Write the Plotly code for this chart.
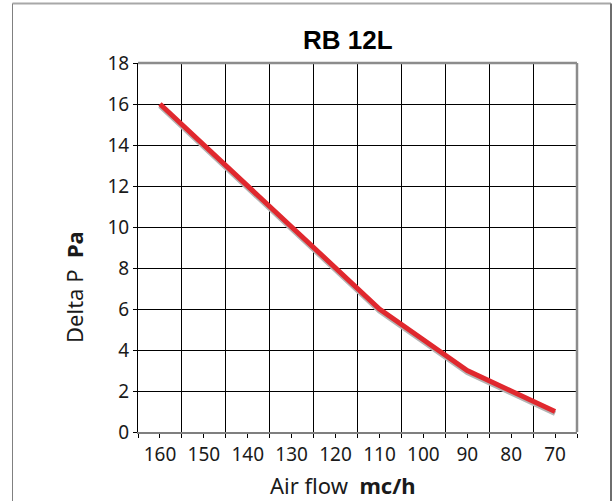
import plotly.graph_objects as go

# ---- data ----
air_flow = [160, 150, 140, 130, 120, 110, 100, 90, 80, 70]
delta_p = [16, 14, 12, 10, 8, 6, 4.5, 3, 2, 1]
x_tick_vals = [160, 150, 140, 130, 120, 110, 100, 90, 80, 70]
x_tick_text = ["160", "150", "140", "130", "120", "110", "100", "90", "80", "70"]
y_tick_vals = [0, 2, 4, 6, 8, 10, 12, 14, 16, 18]

W, H = 613, 501
L, R, T, B = 138, 36, 63, 69
pw, ph = W - L - R, H - T - B

def px_x(p):
    return (p - L) / pw

def px_y(p):
    return (H - B - p) / ph

YMAX = 18
shadow_dy = 2.0 * YMAX / ph  # 2 px downward shift

tick_font = dict(family="Noto Sans", size=19, color="#1a1a1a")

fig = go.Figure()
# invisible anchor trace for the visible axes
fig.add_trace(go.Scatter(x=air_flow, y=delta_p, mode="lines", xaxis="x", yaxis="y",
                         line=dict(color="rgba(0,0,0,0)", width=1), hoverinfo="skip", showlegend=False))
# shadow
fig.add_trace(go.Scatter(x=air_flow, y=delta_p, mode="lines", xaxis="x", yaxis="y2",
                         line=dict(color="#b4b4b4", width=5), hoverinfo="skip", showlegend=False))
# main line
fig.add_trace(go.Scatter(x=air_flow, y=delta_p, mode="lines", xaxis="x", yaxis="y3",
                         line=dict(color="#e0282e", width=5), showlegend=False))

fig.update_layout(
    width=W, height=H,
    margin=dict(l=L, r=R, t=T, b=B, pad=0),
    paper_bgcolor="white", plot_bgcolor="white",
    showlegend=False,
    xaxis=dict(
        range=[165, 65], tickmode="array", tickvals=x_tick_vals, ticktext=x_tick_text,
        showgrid=False, zeroline=False,
        ticks="outside", ticklen=4, tickwidth=1, tickcolor="black",
        showline=True, linecolor="#7f7f7f", linewidth=2,
        tickfont=tick_font,
        minor=dict(tick0=155, dtick=10, showgrid=True, gridcolor="black", gridwidth=1,
                   ticks="outside", ticklen=4, tickwidth=1, tickcolor="black"),
    ),
    yaxis=dict(
        range=[0, YMAX], tickmode="array", tickvals=y_tick_vals,
        showgrid=True, gridcolor="black", gridwidth=1, zeroline=False,
        ticks="outside", ticklen=4, tickwidth=1, tickcolor="black",
        showline=True, linecolor="black", linewidth=1,
        tickfont=tick_font,
    ),
    yaxis2=dict(overlaying="y", range=[shadow_dy, YMAX + shadow_dy], visible=False),
    yaxis3=dict(overlaying="y", range=[0, YMAX], visible=False),
)

shapes = []
# plot top & right border (gray)
shapes.append(dict(type="line", xref="paper", yref="paper", x0=0, x1=1, y0=1, y1=1,
                   line=dict(color="#8c8c8c", width=2.5)))
shapes.append(dict(type="line", xref="paper", yref="paper", x0=1, x1=1, y0=0, y1=1,
                   line=dict(color="#8c8c8c", width=2.5)))
# outer frame
fx0, fx1, fy0, fy1 = px_x(12.5), px_x(611), px_y(3.5), px_y(520)
shapes.append(dict(type="line", xref="paper", yref="paper", x0=fx0, x1=fx1, y0=fy0, y1=fy0,
                   line=dict(color="#a8a8a8", width=2)))
shapes.append(dict(type="line", xref="paper", yref="paper", x0=fx1, x1=fx1, y0=fy1, y1=fy0,
                   line=dict(color="#6e6e6e", width=2)))
shapes.append(dict(type="line", xref="paper", yref="paper", x0=fx0, x1=fx0, y0=fy1, y1=fy0,
                   line=dict(color="#808080", width=1)))
fig.update_layout(shapes=shapes)

fig.add_annotation(text="<b>RB 12L</b>", xref="paper", yref="paper",
                   x=px_x(347.5), y=px_y(40), xanchor="center", yanchor="middle",
                   showarrow=False, font=dict(family="Liberation Sans", size=26, color="black"))
fig.add_annotation(text="Air flow\u00a0\u00a0<b>mc/h</b>", xref="paper", yref="paper",
                   x=px_x(343), y=px_y(485), xanchor="center", yanchor="middle",
                   showarrow=False, font=dict(family="Noto Sans", size=22, color="#1a1a1a"))
fig.add_annotation(text="Delta P\u00a0\u00a0<b>Pa</b>", xref="paper", yref="paper",
                   x=px_x(74), y=px_y(287), xanchor="center", yanchor="middle", textangle=-90,
                   showarrow=False, font=dict(family="Noto Sans", size=22, color="#1a1a1a"))

fig.write_html("out.html", config={"displayModeBar": False},
               post_script="document.body.style.margin='0';")
